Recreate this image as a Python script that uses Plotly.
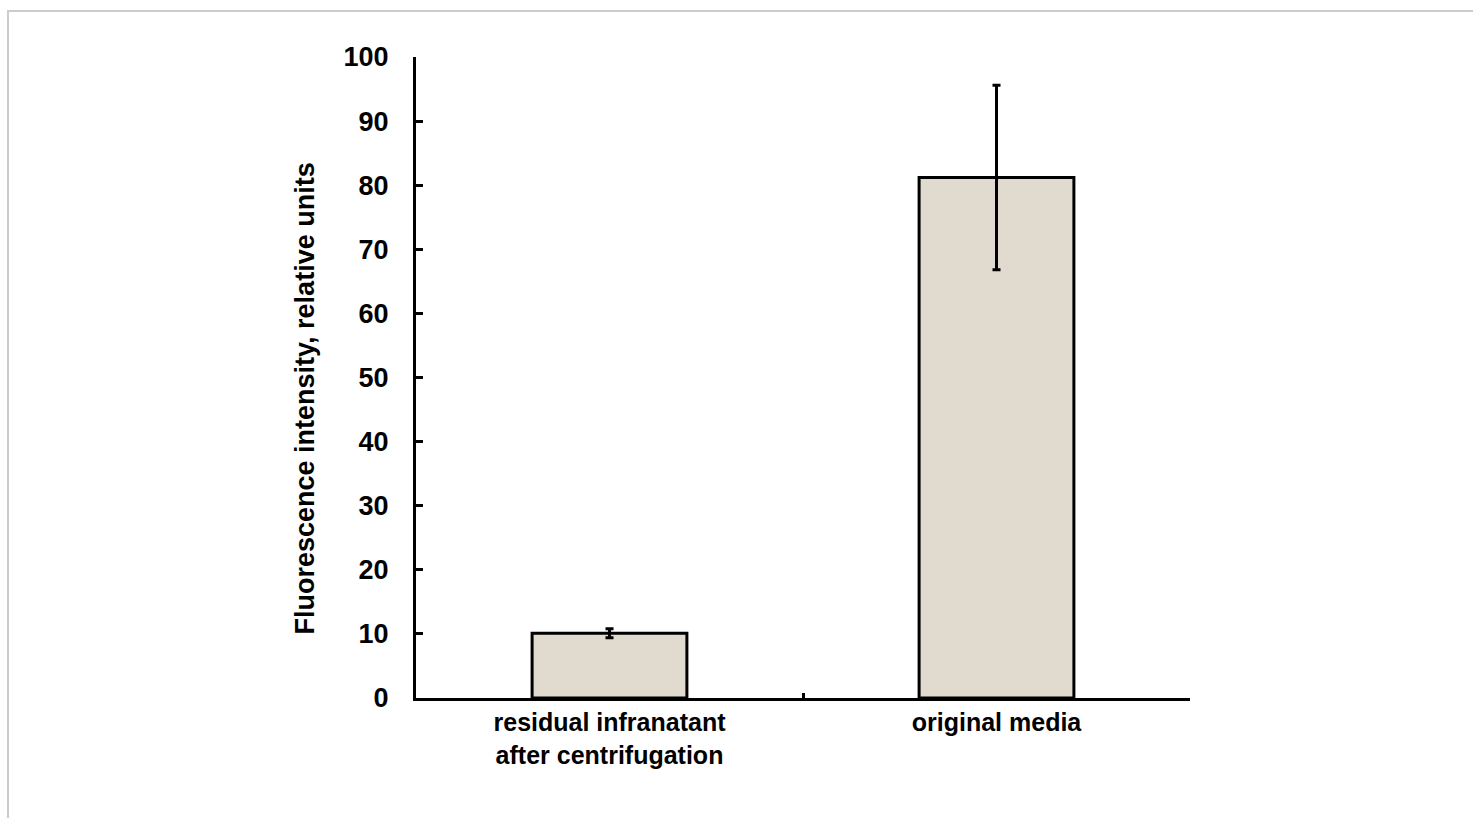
import plotly.graph_objects as go

categories = ["residual infranatant<br>after centrifugation", "original media"]
values = [10.1, 81.2]
errors = [0.7, 14.4]
y_ticks = [0, 10, 20, 30, 40, 50, 60, 70, 80, 90, 100]

W, H = 1473, 818
L, R, T, B = 416, 283, 57, 120
pw, ph = W - L - R, H - T - B

def px_x(p):
    return (p - L) / pw

def px_y(p):
    return (H - B - p) / ph

FONT = "Liberation Sans, Arial, sans-serif"

fig = go.Figure()
fig.add_trace(go.Bar(
    x=categories, y=values,
    marker=dict(color="#E0DBCE", line=dict(color="black", width=3)),
    error_y=dict(type="data", array=errors, visible=True, color="black",
                 thickness=3, width=4),
    width=0.4,
))

fig.update_layout(
    width=W, height=H,
    margin=dict(l=L, r=R, t=T, b=B, pad=0),
    paper_bgcolor="white", plot_bgcolor="white",
    showlegend=False,
    font=dict(family=FONT, color="black"),
)
fig.update_yaxes(
    range=[0, 100], tickvals=y_ticks, ticks="inside", ticklen=7, tickwidth=3,
    tickcolor="black", showline=True, linecolor="black", linewidth=3,
    showgrid=False, zeroline=False,
    tickfont=dict(family=FONT, size=27, color="black", weight="bold"),
    ticklabelstandoff=19,
)
fig.update_xaxes(
    range=[-0.5, 1.5], ticks="inside", tickson="boundaries", ticklen=5, tickwidth=3,
    tickcolor="black", showline=True, linecolor="black", linewidth=3,
    showgrid=False, zeroline=False,
    tickfont=dict(family=FONT, size=25, color="black", weight="bold"),
    ticklabelstandoff=0,
)

fig.add_annotation(
    text="Fluorescence intensity, relative units",
    xref="paper", yref="paper", x=px_x(305), y=px_y(398.5),
    xanchor="center", yanchor="middle", textangle=-90, showarrow=False,
    font=dict(family=FONT, size=27, color="black", weight="bold"),
)

fig.add_shape(
    type="rect", xref="paper", yref="paper",
    x0=px_x(8), x1=px_x(1500), y0=px_y(840), y1=px_y(11),
    line=dict(color="#cccccc", width=2), layer="below",
)

fig.write_html("out.html", config={"displayModeBar": False},
               post_script="document.body.style.margin='0';")
